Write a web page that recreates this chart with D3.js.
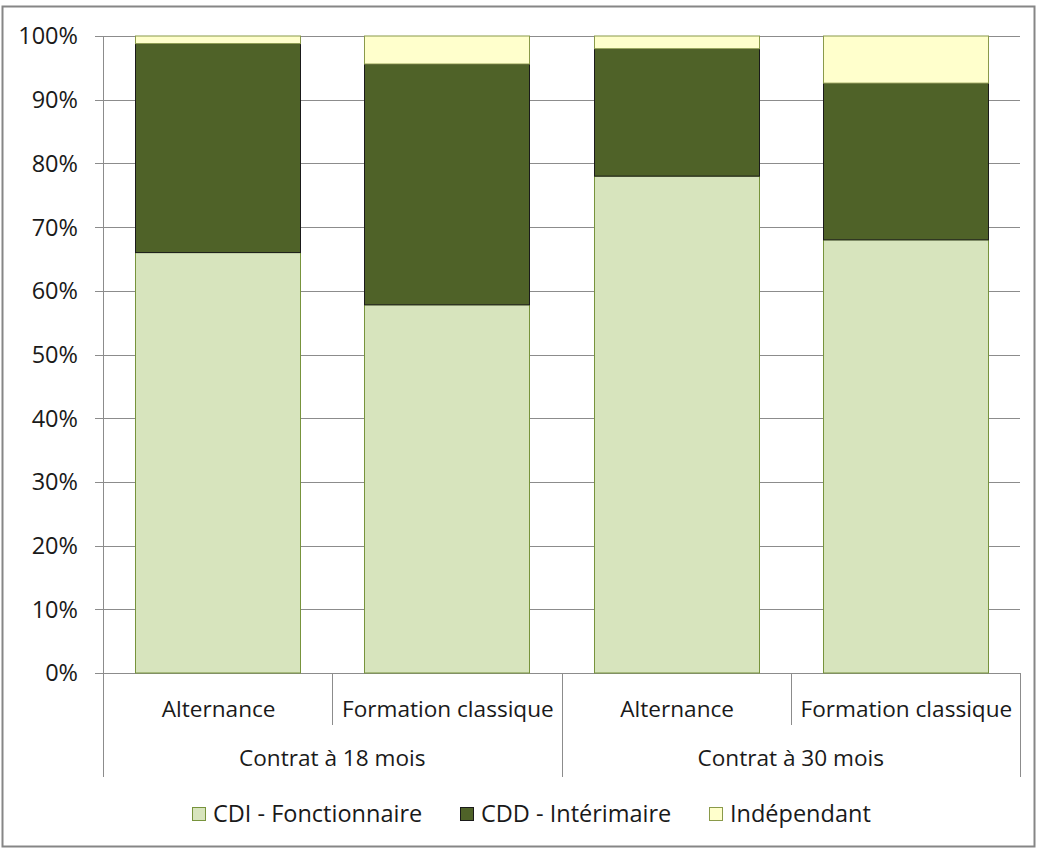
<!DOCTYPE html>
<html><head><meta charset="utf-8">
<script src="https://cdn.jsdelivr.net/npm/d3@7"></script>
<style>body{margin:0;background:#fff}svg{display:block}text{font-family:"Open Sans",sans-serif;fill:#1a1a1a}</style>
</head><body><svg id="c" width="1037" height="849"></svg>
<script>
const groups = ["Contrat à 18 mois", "Contrat à 30 mois"];
const subcats = ["Alternance", "Formation classique"];
const seriesNames = ["CDI - Fonctionnaire", "CDD - Intérimaire", "Indépendant"];
const cdi = [66, 57.8, 78, 68];
const cdd = [32.8, 37.8, 20, 24.6];
const indep = [1.2, 4.4, 2, 7.4];
const yTicks = [0,10,20,30,40,50,60,70,80,90,100];
const colors = ["#D7E4BD", "#4F6228", "#FFFFCC"];
const strokes = ["#77933C", "#1a1a1a", "#8A9A4A"];

const rows = [];
groups.forEach((g,gi)=>subcats.forEach((s,si)=>{const i=gi*2+si;rows.push({key:i,group:g,sub:s,"CDI - Fonctionnaire":cdi[i],"CDD - Intérimaire":cdd[i],"Indépendant":indep[i]});}));

const svg = d3.select("#c");
const L=103,R=1020,T=36,B=673;
svg.append("rect").attr("x",2.5).attr("y",6.5).attr("width",1032).attr("height",840).attr("fill","#fff").attr("stroke","#868686").attr("stroke-width",2);

const x = d3.scaleBand().domain(rows.map(d=>d.key)).range([L,R]).paddingInner(0.28).paddingOuter(0.14);
const y = d3.scaleLinear().domain([0,100]).range([B,T]);

// grid
svg.append("g").selectAll("line").data(yTicks).join("line")
 .attr("x1",L-8).attr("x2",R).attr("y1",d=>Math.round(y(d))+0.5).attr("y2",d=>Math.round(y(d))+0.5)
 .attr("stroke","#8c8c8c").attr("stroke-width",1);
svg.append("line").attr("x1",L+0.5).attr("x2",L+0.5).attr("y1",T).attr("y2",B).attr("stroke","#8c8c8c");
svg.append("g").selectAll("text").data(yTicks).join("text")
 .attr("x",78).attr("y",d=>y(d)).attr("dy","0.36em").attr("text-anchor","end").attr("font-size",23.5).text(d=>d+"%");

const stack = d3.stack().keys(seriesNames)(rows);
svg.append("g").selectAll("g").data(stack).join("g")
 .attr("fill",(d,i)=>colors[i]).attr("stroke",(d,i)=>strokes[i]).attr("stroke-width",1)
 .selectAll("rect").data(d=>d).join("rect")
 .attr("x",d=>Math.round(x(d.data.key))+0.5).attr("width",Math.round(x.bandwidth()))
 .attr("y",d=>y(d[1])).attr("height",d=>y(d[0])-y(d[1]));

// category axis
const step = (R-L)/4;
const ax = svg.append("g").attr("stroke","#8c8c8c");
[0,1,2,3,4].forEach(i=>{
  const xx=Math.round(L+i*step)+0.5;
  ax.append("line").attr("x1",xx).attr("x2",xx).attr("y1",B).attr("y2",i%2===0?777:725);
});
svg.append("g").selectAll("text").data(rows).join("text")
 .attr("x",d=>L+step*(d.key+0.5)+1).attr("y",717).attr("text-anchor","middle").attr("font-size",22.6).text(d=>d.sub);
svg.append("g").selectAll("text").data(groups).join("text")
 .attr("x",(d,i)=>L+step*(2*i+1)).attr("y",766).attr("text-anchor","middle").attr("font-size",22.6).text(d=>d);

// legend
const legX=[192,460,709];
const lg = svg.append("g").selectAll("g").data(seriesNames).join("g").attr("transform",(d,i)=>`translate(${legX[i]},807)`);
lg.append("rect").attr("x",0.5).attr("y",0.5).attr("width",13).attr("height",13).attr("fill",(d,i)=>colors[i]).attr("stroke",(d,i)=>strokes[i]);
lg.append("text").attr("x",21).attr("y",14.5).attr("font-size",23.5).text(d=>d);
</script></body></html>
